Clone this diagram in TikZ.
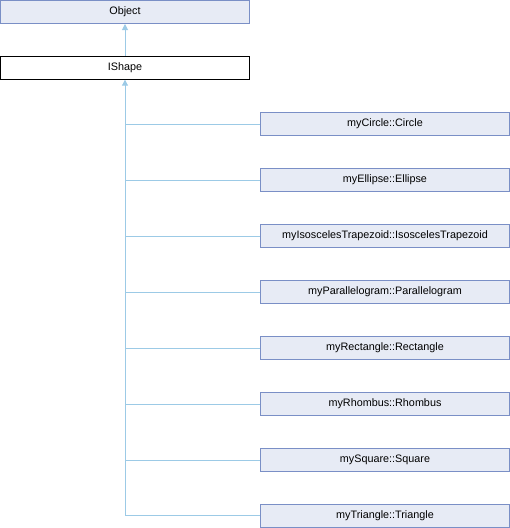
\documentclass[tikz,border=0pt]{standalone}
\usepackage{fontspec}
\setmainfont{Liberation Sans}
\usetikzlibrary{arrows.meta}
\definecolor{boxfill}{HTML}{E7EBF5}
\definecolor{boxline}{HTML}{7A8FC6}
\definecolor{edge}{HTML}{9CCAE6}
\begin{document}
\begin{tikzpicture}[x=1pt,y=-1pt,
  cls/.style={draw=boxline,fill=boxfill,line width=1pt,minimum width=249pt,minimum height=23pt,inner sep=0pt,font=\fontsize{10.8}{13}\selectfont},
  cur/.style={draw=black,fill=white,line width=1pt,minimum width=249pt,minimum height=23pt,inner sep=0pt,font=\fontsize{10.8}{13}\selectfont},
  inh/.style={draw=edge,line width=1pt,-{Triangle[length=6pt,width=6pt,fill=edge]}}]
\useasboundingbox (0,0) rectangle (510,528);
\node[cls] (obj) at (125,12) {Object};
\node[cur] (ish) at (125,67.7) {IShape};
\node[cls] (c1) at (385,124) {myCircle::Circle};
\node[cls] (c2) at (385,180) {myEllipse::Ellipse};
\node[cls] (c3) at (385,236) {myIsoscelesTrapezoid::IsoscelesTrapezoid};
\node[cls] (c4) at (385,292) {myParallelogram::Parallelogram};
\node[cls] (c5) at (385,348) {myRectangle::Rectangle};
\node[cls] (c6) at (385,404) {myRhombus::Rhombus};
\node[cls] (c7) at (385,460) {mySquare::Square};
\node[cls] (c8) at (385,515.5) {myTriangle::Triangle};
\draw[inh] (ish.north) -- (obj.south);
\draw[inh] (c8.west) -| (ish.south);
\foreach \n in {c1,c2,c3,c4,c5,c6,c7}{
  \draw[draw=edge,line width=1pt] (\n.west) -- (ish.south |- \n.west);
}
\end{tikzpicture}
\end{document}
